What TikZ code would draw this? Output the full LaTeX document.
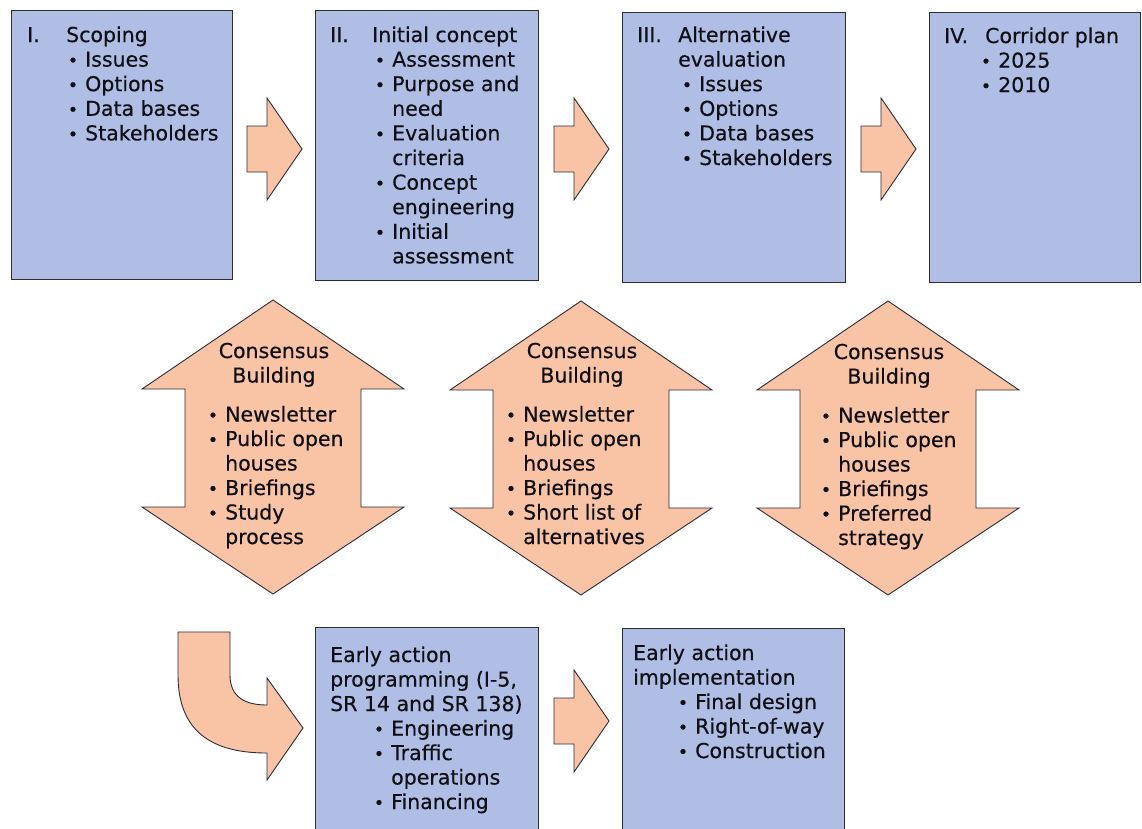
\documentclass[tikz,border=0pt]{standalone}
\usepackage{fontspec}
\setmainfont[UprightFeatures={FakeBold=0.35}]{DejaVu Sans}
\definecolor{boxblue}{RGB}{176,190,230}
\definecolor{peach}{RGB}{249,195,165}
\definecolor{edge}{RGB}{45,45,55}
\definecolor{textc}{RGB}{15,15,20}
\newcommand{\fsz}{\fontsize{20.5pt}{24.6pt}\selectfont}
\begin{document}
\begin{tikzpicture}[x=1pt,y=-1pt,
  box/.style={draw=edge, line width=1.3pt, fill=boxblue, rectangle, anchor=north west, inner sep=0pt},
  txt/.style={anchor=base west, inner sep=0pt, font=\fsz, text=textc},
  ctxt/.style={anchor=base, inner sep=0pt, font=\fsz, text=textc},
  bul/.style={anchor=base, inner sep=0pt, font=\fsz, text=textc},
  arrowst/.style={draw=edge, line width=0.9pt, fill=peach, line join=miter},
  rarrow/.pic={\draw[arrowst] (0,-23) -- (20,-23) -- (20,-51) -- (55,0) -- (20,51) -- (20,23) -- (0,23) -- cycle;},
  dblarrow/.pic={\draw[arrowst] (0,0) -- (131,89) -- (88,89) -- (88,207) -- (131,207) -- (0,294) -- (-131,207) -- (-88,207) -- (-88,89) -- (-131,89) -- cycle;}
]
\newcommand{\tl}[4]{\node[txt] (#1) at (#2,#3) {#4};}
\newcommand{\bl}[4]{\node[bul] (#1b) at ({#2-12},#3) {\scalebox{0.85}{•}};\node[txt] (#1) at (#2,#3) {#4};}
\clip (0,0) rectangle (1142,828);
\fill[white] (0,0) rectangle (1142,828);
% boxes
\node[box, minimum width=221pt, minimum height=269pt] (b1) at (11,10) {};
\node[box, minimum width=223pt, minimum height=270pt] (b2) at (315,10) {};
\node[box, minimum width=223pt, minimum height=270pt] (b3) at (622,12) {};
\node[box, minimum width=211pt, minimum height=270pt] (b4) at (929,12) {};
\node[box, minimum width=223pt, minimum height=220pt] (b5) at (315,627) {};
\node[box, minimum width=222pt, minimum height=220pt] (b6) at (622,628) {};
% block arrows
\pic at (247,149) {rarrow};
\pic at (554,149) {rarrow};
\pic at (861,149) {rarrow};
\pic at (554,721) {rarrow};
\pic at (273,300) {dblarrow};
\pic at (581,301) {dblarrow};
\pic at (888,301) {dblarrow};
\draw[arrowst] (178,632) -- (230,632) -- (230,675)
  .. controls (230,697) and (245,705) .. (267,705) -- (267,678) -- (303,728)
  -- (267,780) -- (267,753) .. controls (210,753) and (178,730) .. (178,675) -- cycle;
% box I
\tl{n1}{27}{42}{I.}
\tl{h1}{66}{42}{Scoping}
\bl{a1}{85}{66.6}{Issues}
\bl{a2}{85}{91.2}{Options}
\bl{a3}{85}{115.8}{Data bases}
\bl{a4}{85}{140.4}{Stakeholders}
% box II
\tl{n2}{330}{42}{II.}
\tl{h2}{372}{42}{Initial concept}
\bl{c1}{392}{66.6}{Assessment}
\bl{c2}{392}{91.2}{Purpose and}
\tl{c2x}{392}{115.8}{need}
\bl{c3}{392}{140.4}{Evaluation}
\tl{c3x}{392}{165}{criteria}
\bl{c4}{392}{189.6}{Concept}
\tl{c4x}{392}{214.2}{engineering}
\bl{c5}{392}{238.8}{Initial}
\tl{c5x}{392}{263.4}{assessment}
% box III
\tl{n3}{637}{42}{III.}
\tl{h3}{678}{42}{Alternative}
\tl{h3x}{678}{66.6}{evaluation}
\bl{d1}{699}{91.2}{Issues}
\bl{d2}{699}{115.8}{Options}
\bl{d3}{699}{140.4}{Data bases}
\bl{d4}{699}{165}{Stakeholders}
% box IV
\tl{n4}{944}{43}{IV.}
\tl{h4}{985}{43}{Corridor plan}
\bl{e1}{998}{67.6}{2025}
\bl{e2}{998}{92.2}{2010}
% consensus 1
\node[ctxt] (k1a) at (274,358) {Consensus};
\node[ctxt] (k1b) at (274,382.5) {Building};
\bl{f1}{225}{421.5}{Newsletter}
\bl{f2}{225}{446}{Public open}
\tl{f2x}{225}{470.5}{houses}
\bl{f3}{225}{495}{Briefings}
\bl{f4}{225}{519.5}{Study}
\tl{f4x}{225}{544}{process}
% consensus 2
\node[ctxt] (k2a) at (582,358) {Consensus};
\node[ctxt] (k2b) at (582,382.5) {Building};
\bl{g1}{523}{421.5}{Newsletter}
\bl{g2}{523}{446}{Public open}
\tl{g2x}{523}{470.5}{houses}
\bl{g3}{523}{495}{Briefings}
\bl{g4}{523}{519.5}{Short list of}
\tl{g4x}{523}{544}{alternatives}
% consensus 3
\node[ctxt] (k3a) at (889,359) {Consensus};
\node[ctxt] (k3b) at (889,383.5) {Building};
\bl{m1}{838}{422.5}{Newsletter}
\bl{m2}{838}{447}{Public open}
\tl{m2x}{838}{471.5}{houses}
\bl{m3}{838}{496}{Briefings}
\bl{m4}{838}{520.5}{Preferred}
\tl{m4x}{838}{545}{strategy}
% bottom box 1
\tl{p1}{330}{662}{Early action}
\tl{p2}{330}{686.5}{programming (I-5,}
\tl{p3}{330}{711}{SR 14 and SR 138)}
\bl{q1}{391}{735.5}{Engineering}
\bl{q2}{391}{760}{Traffic}
\tl{q2x}{391}{784.5}{operations}
\bl{q3}{391}{809}{Financing}
% bottom box 2
\tl{r1}{633}{660}{Early action}
\tl{r2}{633}{684.5}{implementation}
\bl{s1}{695}{709}{Final design}
\bl{s2}{695}{733.5}{Right-of-way}
\bl{s3}{695}{758}{Construction}
\end{tikzpicture}
\end{document}
